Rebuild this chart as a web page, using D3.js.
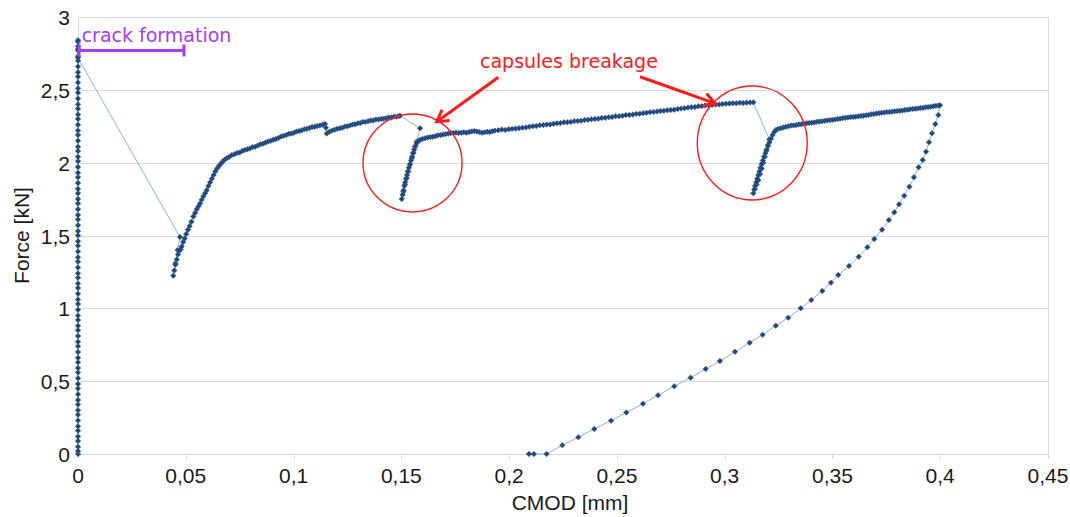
<!DOCTYPE html>
<html><head><meta charset="utf-8">
<script src="https://cdn.jsdelivr.net/npm/d3@7"></script>
<style>html,body{margin:0;padding:0;background:#fff;}svg{display:block;}</style>
</head><body>
<svg id="chart" width="1070" height="517"></svg>
<script>
// ---------------- DATA ----------------
const xTicks = [0, 0.05, 0.1, 0.15, 0.2, 0.25, 0.3, 0.35, 0.4, 0.45];
const xTickLabels = ["0", "0,05", "0,1", "0,15", "0,2", "0,25", "0,3", "0,35", "0,4", "0,45"];
const yTicks = [0, 0.5, 1, 1.5, 2, 2.5, 3];
const yTickLabels = ["0", "0,5", "1", "1,5", "2", "2,5", "3"];

// initial elastic branch, CMOD ~ 0 mm (force in kN)
const elasticCmod = 0;
const elasticForce = [0, 0.02, 0.05, 0.09, 0.12, 0.16, 0.19, 0.23, 0.27, 0.3, 0.34, 0.37, 0.41, 0.45, 0.48, 0.52, 0.56, 0.59, 0.63, 0.66, 0.7, 0.74, 0.77, 0.81, 0.85, 0.88, 0.92, 0.95, 0.99, 1.03, 1.06, 1.1, 1.14, 1.17, 1.21, 1.24, 1.28, 1.32, 1.35, 1.39, 1.43, 1.46, 1.5, 1.53, 1.57, 1.61, 1.64, 1.68, 1.72, 1.75, 1.79, 1.82, 1.86, 1.9, 1.93, 1.97, 2.01, 2.04, 2.08, 2.11, 2.15, 2.19, 2.22, 2.26, 2.3, 2.33, 2.37, 2.4, 2.44, 2.48, 2.51, 2.55, 2.59, 2.62, 2.66, 2.7, 2.73, 2.77, 2.8, 2.83, 2.84, 2.78, 2.72];

// after crack formation: [CMOD mm, force kN]
const crackBranch = [[0.0473,1.49],[0.0462,1.40],[0.0452,1.31],[0.0442,1.224],[0.0447,1.26],[0.0452,1.30],[0.0458,1.335],[0.0464,1.37],[0.0470,1.395],[0.0476,1.405],[0.0481,1.425],[0.0488,1.455],[0.0495,1.48],[0.0502,1.51],[0.0510,1.54],[0.0518,1.565],[0.0526,1.595],[0.0535,1.63],[0.0543,1.655],[0.0551,1.68],[0.0559,1.70],[0.0566,1.72],[0.0574,1.745],[0.0582,1.77],[0.0590,1.79],[0.0597,1.81],[0.0605,1.84],[0.0613,1.865],[0.0621,1.89],[0.0629,1.915],[0.0637,1.94],[0.0645,1.96],[0.0653,1.975],[0.0661,1.99],[0.0670,2.005],[0.0680,2.02],[0.0690,2.03],[0.0702,2.04],[0.0714,2.052],[0.0726,2.058],[0.0738,2.066],[0.0750,2.07],[0.0762,2.08],[0.0774,2.087],[0.0786,2.092],[0.0798,2.098],[0.0810,2.107],[0.0822,2.11],[0.0834,2.118],[0.0846,2.127],[0.0858,2.13],[0.0870,2.138],[0.0882,2.145],[0.0894,2.15],[0.0906,2.158],[0.0918,2.163],[0.0930,2.17],[0.0942,2.18],[0.0954,2.184],[0.0966,2.19],[0.0978,2.198],[0.0990,2.2],[0.1002,2.206],[0.1014,2.214],[0.1026,2.218],[0.1038,2.222],[0.1050,2.23],[0.1062,2.232],[0.1074,2.238],[0.1086,2.245],[0.1098,2.246],[0.1110,2.252],[0.1122,2.255],[0.1134,2.26],[0.1146,2.266],[0.1150,2.24],[0.1154,2.20],[0.1166,2.212],[0.1178,2.22],[0.1190,2.226],[0.1202,2.232],[0.1214,2.236],[0.1226,2.24],[0.1238,2.248],[0.1250,2.25],[0.1262,2.256],[0.1274,2.262],[0.1286,2.264],[0.1298,2.27],[0.1310,2.272],[0.1322,2.28],[0.1334,2.28],[0.1346,2.285],[0.1358,2.29],[0.1370,2.29],[0.1382,2.296],[0.1394,2.296],[0.1406,2.3],[0.1418,2.302],[0.1430,2.305],[0.1442,2.31],[0.1454,2.31],[0.1466,2.316],[0.1478,2.316],[0.1490,2.32],[0.1494,2.322]];

// first capsules breakage and reloading
const firstBreakage = [[0.1587,2.236],[0.1571,2.144],[0.1563,2.11],[0.1556,2.07],[0.1548,2.03],[0.1540,1.985],[0.1532,1.94],[0.1525,1.895],[0.1517,1.85],[0.1510,1.80],[0.1502,1.751],[0.1506,1.78],[0.1510,1.81],[0.1514,1.84],[0.1518,1.865],[0.1522,1.89],[0.1526,1.915],[0.1530,1.94],[0.1535,1.965],[0.1540,1.99],[0.1545,2.015],[0.1550,2.04],[0.1555,2.065],[0.1560,2.09],[0.1566,2.115],[0.1572,2.135],[0.1579,2.148],[0.1588,2.158],[0.1598,2.163],[0.1610,2.168],[0.1622,2.172],[0.1634,2.176],[0.1646,2.178],[0.1658,2.182],[0.1670,2.188],[0.1682,2.19],[0.1694,2.194],[0.1706,2.196],[0.1718,2.2],[0.1730,2.203],[0.1742,2.204],[0.1754,2.206],[0.1766,2.204],[0.1778,2.206],[0.1790,2.209],[0.1802,2.206],[0.1814,2.21],[0.1826,2.214],[0.1838,2.217],[0.1850,2.214],[0.1862,2.21],[0.1874,2.206],[0.1886,2.208],[0.1898,2.212],[0.1910,2.21],[0.1922,2.216],[0.1934,2.22],[0.1950,2.222],[0.1966,2.227],[0.1982,2.224],[0.1998,2.229],[0.2014,2.232],[0.2030,2.234],[0.2046,2.237],[0.2062,2.240],[0.2078,2.242],[0.2094,2.247],[0.2110,2.250],[0.2126,2.252],[0.2142,2.257],[0.2158,2.258],[0.2174,2.262],[0.2190,2.262],[0.2206,2.267],[0.2222,2.270],[0.2238,2.272],[0.2254,2.277],[0.2270,2.278],[0.2286,2.280],[0.2302,2.285],[0.2318,2.286],[0.2334,2.288],[0.2350,2.293],[0.2366,2.294],[0.2382,2.298],[0.2398,2.300],[0.2414,2.302],[0.2430,2.307],[0.2446,2.308],[0.2462,2.312],[0.2478,2.314],[0.2494,2.319],[0.2510,2.318],[0.2526,2.322],[0.2542,2.327],[0.2558,2.328],[0.2574,2.330],[0.2590,2.335],[0.2606,2.336],[0.2622,2.340],[0.2638,2.342],[0.2654,2.347],[0.2670,2.348],[0.2686,2.352],[0.2702,2.355],[0.2718,2.356],[0.2734,2.360],[0.2750,2.362],[0.2766,2.364],[0.2782,2.369],[0.2798,2.372],[0.2814,2.374],[0.2830,2.378],[0.2846,2.380],[0.2862,2.382],[0.2878,2.387],[0.2894,2.388],[0.2910,2.392],[0.2926,2.394],[0.2942,2.396],[0.2958,2.399],[0.2974,2.400],[0.2990,2.402],[0.3006,2.405],[0.3022,2.406],[0.3038,2.408],[0.3054,2.408],[0.3070,2.411],[0.3086,2.410],[0.3102,2.412],[0.3118,2.413],[0.3133,2.414]];

// second capsules breakage and reloading
const secondBreakage = [[0.3207,2.160],[0.3200,2.12],[0.3193,2.08],[0.3186,2.04],[0.3179,2.00],[0.3172,1.96],[0.3164,1.92],[0.3156,1.88],[0.3148,1.85],[0.3140,1.82],[0.3133,1.79],[0.3137,1.815],[0.3141,1.84],[0.3146,1.865],[0.3151,1.89],[0.3156,1.915],[0.3161,1.94],[0.3166,1.965],[0.3171,1.99],[0.3177,2.015],[0.3183,2.04],[0.3189,2.065],[0.3195,2.09],[0.3201,2.115],[0.3208,2.14],[0.3215,2.165],[0.3222,2.19],[0.3230,2.21],[0.3238,2.225],[0.3248,2.232],[0.3260,2.236],[0.3272,2.241],[0.3284,2.246],[0.3296,2.250],[0.3308,2.255],[0.3320,2.256],[0.3332,2.258],[0.3344,2.263],[0.3356,2.264],[0.3368,2.268],[0.3380,2.270],[0.3392,2.273],[0.3404,2.274],[0.3416,2.276],[0.3428,2.281],[0.3440,2.282],[0.3452,2.284],[0.3464,2.287],[0.3476,2.290],[0.3488,2.292],[0.3500,2.294],[0.3512,2.297],[0.3524,2.300],[0.3536,2.302],[0.3548,2.306],[0.3560,2.308],[0.3572,2.310],[0.3584,2.313],[0.3596,2.314],[0.3608,2.316],[0.3620,2.318],[0.3632,2.321],[0.3644,2.322],[0.3656,2.326],[0.3668,2.328],[0.3680,2.332],[0.3692,2.334],[0.3704,2.337],[0.3716,2.340],[0.3728,2.342],[0.3740,2.344],[0.3752,2.347],[0.3764,2.348],[0.3776,2.350],[0.3788,2.353],[0.3800,2.354],[0.3812,2.356],[0.3824,2.358],[0.3836,2.362],[0.3848,2.364],[0.3860,2.366],[0.3872,2.369],[0.3884,2.370],[0.3896,2.372],[0.3908,2.375],[0.3920,2.376],[0.3932,2.380],[0.3944,2.382],[0.3956,2.384],[0.3968,2.387],[0.3980,2.390],[0.3992,2.392],[0.3999,2.394]];

// unloading branch
const unloading = [[0.3991,2.327],[0.3977,2.265],[0.3962,2.202],[0.3948,2.140],[0.3934,2.075],[0.3919,2.018],[0.3900,1.968],[0.3878,1.900],[0.3857,1.835],[0.3833,1.773],[0.3809,1.714],[0.3787,1.659],[0.3762,1.606],[0.3730,1.540],[0.3694,1.476],[0.3662,1.419],[0.3622,1.354],[0.3577,1.291],[0.3527,1.229],[0.3493,1.176],[0.3453,1.119],[0.3402,1.057],[0.3353,1.000],[0.3295,0.936],[0.3237,0.881],[0.3176,0.819],[0.3116,0.764],[0.3048,0.702],[0.2978,0.638],[0.2912,0.584],[0.2842,0.524],[0.2766,0.465],[0.2691,0.403],[0.2621,0.345],[0.2544,0.285],[0.2473,0.229],[0.2395,0.172],[0.2321,0.115],[0.2247,0.060],[0.2174,0.0],[0.2115,0.0],[0.2092,0.0]];

// annotations (data coordinates)
const crackLabel = {text: "crack formation", x: 0.0017, y: 2.828};
const crackBracket = {x0: 0, x1: 0.0487, y: 2.77};
const breakLabel = {text: "capsules breakage", x: 0.1865, y: 2.65};
const breakCircles = [{cx: 0.1552, cy: 1.998, rx: 0.02296, ry: 0.3364}, {cx: 0.3128, cy: 2.135, rx: 0.0255, ry: 0.391}];
const breakArrows = [{x0: 0.195, y0: 2.586, x1: 0.1664, y1: 2.281}, {x0: 0.2607, y0: 2.590, x1: 0.2955, y1: 2.407}];

// ---------------- CHART ----------------
const svg = d3.select("#chart");
const W = 1070, H = 517;
const m = {left: 78, right: 22, top: 17, bottom: 63};
const x = d3.scaleLinear().domain([0, 0.45]).range([m.left, W - m.right]);
const y = d3.scaleLinear().domain([0, 3]).range([H - m.bottom, m.top]);

svg.append("rect").attr("width", W).attr("height", H).attr("fill", "#fff");

const gridColor = "#d9d9d9";
svg.append("g").selectAll("line").data(yTicks).join("line")
  .attr("x1", x(0)).attr("x2", x(0.45))
  .attr("y1", d => Math.round(y(d)) + 0.5).attr("y2", d => Math.round(y(d)) + 0.5)
  .attr("stroke", gridColor).attr("stroke-width", 1);
[0, 0.45].forEach(v => {
  svg.append("line").attr("x1", Math.round(x(v)) + 0.5).attr("x2", Math.round(x(v)) + 0.5)
    .attr("y1", y(3)).attr("y2", y(0)).attr("stroke", gridColor);
});
svg.append("g").selectAll("line").data(xTicks).join("line")
  .attr("x1", d => Math.round(x(d)) + 0.5).attr("x2", d => Math.round(x(d)) + 0.5)
  .attr("y1", y(0)).attr("y2", y(0) + 5).attr("stroke", gridColor);

const tickFont = "'Liberation Sans', Arial, sans-serif";
svg.append("g").selectAll("text").data(xTicks).join("text")
  .attr("x", d => x(d)).attr("y", y(0) + 29)
  .attr("text-anchor", "middle").attr("font-family", tickFont).attr("font-size", 21)
  .attr("fill", "#1a1a1a").text((d, i) => xTickLabels[i]);
svg.append("g").selectAll("text").data(yTicks).join("text")
  .attr("x", x(0) - 8).attr("y", d => y(d) + 8)
  .attr("text-anchor", "end").attr("font-family", tickFont).attr("font-size", 21)
  .attr("fill", "#1a1a1a").text((d, i) => yTickLabels[i]);

svg.append("text").attr("x", 570).attr("y", 510).attr("text-anchor", "middle")
  .attr("font-family", tickFont).attr("font-size", 21).attr("fill", "#1a1a1a").text("CMOD [mm]");
svg.append("text").attr("transform", `translate(29,${(y(0) + y(3)) / 2}) rotate(-90)`)
  .attr("text-anchor", "middle").attr("font-family", tickFont).attr("font-size", 21)
  .attr("fill", "#1a1a1a").text("Force [kN]");

const series = [].concat(
  elasticForce.map(f => [elasticCmod, f]),
  crackBranch, firstBreakage, secondBreakage, unloading);

svg.append("path").datum(series)
  .attr("d", d3.line().x(d => x(d[0])).y(d => y(d[1])))
  .attr("fill", "none").attr("stroke", "#8db0dc").attr("stroke-width", 1);

const sym = d3.symbol().type(d3.symbolSquare).size(15)();
svg.append("g").selectAll("path").data(series).join("path")
  .attr("d", sym)
  .attr("transform", d => `translate(${x(d[0])},${y(d[1])}) rotate(45)`)
  .attr("fill", "#1d4679").attr("stroke", "#3d6595").attr("stroke-width", 0.6);

// ---- annotations ----
const purple = "#a23cff";
svg.append("text").attr("x", x(crackLabel.x)).attr("y", y(crackLabel.y))
  .attr("font-family", "'DejaVu Sans', sans-serif").attr("font-size", 19)
  .attr("fill", purple).text(crackLabel.text);
svg.append("line").attr("x1", x(crackBracket.x0)).attr("x2", x(crackBracket.x1))
  .attr("y1", y(crackBracket.y)).attr("y2", y(crackBracket.y))
  .attr("stroke", purple).attr("stroke-width", 3);
[crackBracket.x0, crackBracket.x1].forEach(v => {
  svg.append("line").attr("x1", x(v) + 1).attr("x2", x(v) + 1)
    .attr("y1", y(crackBracket.y) - 6).attr("y2", y(crackBracket.y) + 6)
    .attr("stroke", purple).attr("stroke-width", 3);
});

const red = "#ff1a1a";
svg.append("text").attr("x", x(breakLabel.x)).attr("y", y(breakLabel.y))
  .attr("font-family", "'DejaVu Sans', sans-serif").attr("font-size", 19)
  .attr("fill", red).text(breakLabel.text);
svg.append("g").selectAll("ellipse").data(breakCircles).join("ellipse")
  .attr("cx", d => x(d.cx)).attr("cy", d => y(d.cy))
  .attr("rx", d => x(d.rx) - x(0)).attr("ry", d => y(0) - y(d.ry))
  .attr("fill", "none").attr("stroke", red).attr("stroke-width", 1.4);
breakArrows.forEach(a => {
  const X0 = x(a.x0), Y0 = y(a.y0), X1 = x(a.x1), Y1 = y(a.y1);
  const ang = Math.atan2(Y1 - Y0, X1 - X0);
  svg.append("line").attr("x1", X0).attr("y1", Y0).attr("x2", X1).attr("y2", Y1)
    .attr("stroke", red).attr("stroke-width", 3);
  const L = 13, spread = Math.PI / 6;
  const p = [[X1 - L * Math.cos(ang - spread), Y1 - L * Math.sin(ang - spread)], [X1, Y1],
             [X1 - L * Math.cos(ang + spread), Y1 - L * Math.sin(ang + spread)]];
  svg.append("path").attr("d", d3.line()(p)).attr("fill", "none")
    .attr("stroke", red).attr("stroke-width", 3).attr("stroke-linejoin", "miter");
});
</script>
</body></html>
